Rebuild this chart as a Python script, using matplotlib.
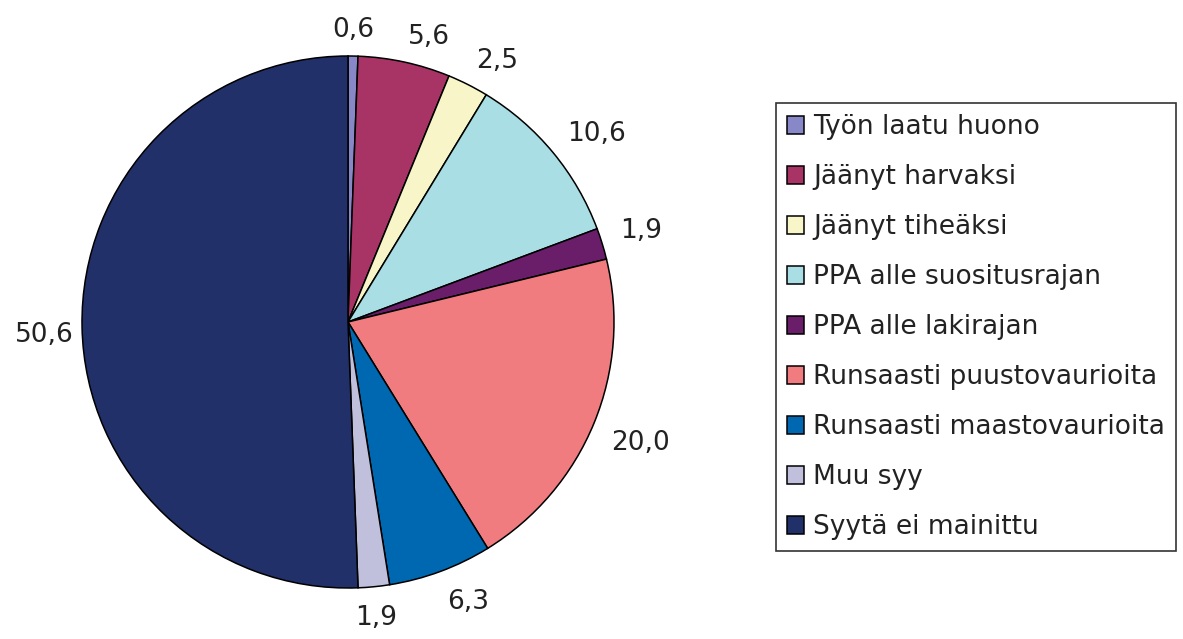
import numpy as np
import matplotlib.pyplot as plt

plt.rcParams["font.family"] = ["DejaVu Sans"]

categories = [
    "Työn laatu huono",
    "Jäänyt harvaksi",
    "Jäänyt tiheäksi",
    "PPA alle suositusrajan",
    "PPA alle lakirajan",
    "Runsaasti puustovaurioita",
    "Runsaasti maastovaurioita",
    "Muu syy",
    "Syytä ei mainittu",
]
values = [0.6, 5.6, 2.5, 10.6, 1.9, 20.0, 6.3, 1.9, 50.6]
colors = [
    "#8888c8", "#a83466", "#f8f6c8", "#a8dee4", "#6a1e6a",
    "#f07c80", "#0068b0", "#c0c0dc", "#22306a",
]
value_labels = [f"{v:.1f}".replace(".", ",") for v in values]

W, H = 1183, 639
fig = plt.figure(figsize=(W / 100, H / 100), dpi=100)

cx, cy, r = 348, 322, 266
ax = fig.add_axes([(cx - r) / W, (H - cy - r) / H, 2 * r / W, 2 * r / H])

wedges, _ = ax.pie(
    values,
    colors=colors,
    startangle=90,
    counterclock=False,
    radius=1,
    wedgeprops={"edgecolor": "black", "linewidth": 1.1},
)
ax.set(xlim=(-1, 1), ylim=(-1, 1), aspect="equal")
ax.axis("off")

# data labels, excel-like placement: box corner just outside the rim
for w, lab in zip(wedges, value_labels):
    ang = np.deg2rad((w.theta1 + w.theta2) / 2)
    c, s = np.cos(ang), np.sin(ang)
    ha = "left" if c > 0.1 else ("right" if c < -0.1 else "center")
    va = "baseline" if s > 0.1 else ("top" if s < -0.1 else "center")
    d = 1.03 if abs(s) < 0.1 else 1.07
    ax.text(d * c, d * s - (0.03 if abs(s) < 0.1 else 0), lab,
            ha=ha, va=va, fontsize=19, color="#222222", clip_on=False)

leg = fig.legend(
    wedges, categories,
    loc="upper left",
    bbox_to_anchor=(776 / W, 1 - 103 / H),
    fontsize=19,
    frameon=True,
    fancybox=False,
    edgecolor="black",
    handlelength=0.65,
    handleheight=0.65,
    handletextpad=0.35,
    labelspacing=0.91,
    borderpad=0.42,
    borderaxespad=0,
)
leg.get_frame().set_linewidth(1.2)
for t in leg.get_texts():
    t.set_color("#222222")

fig.savefig("out.png", dpi=100)
